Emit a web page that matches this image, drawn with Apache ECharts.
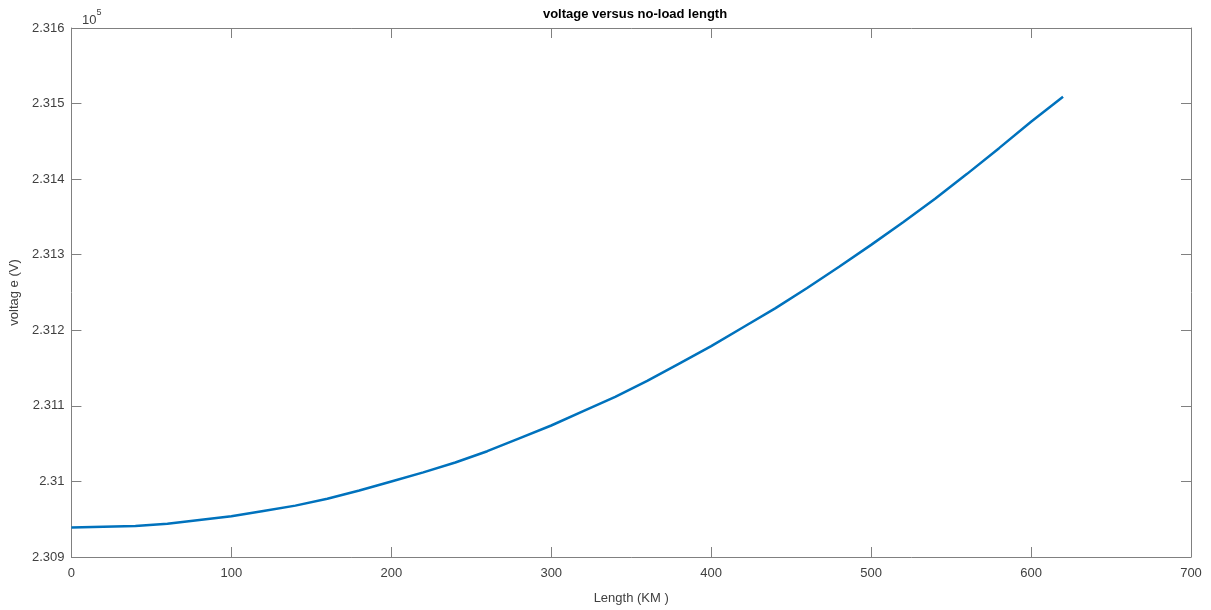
<!DOCTYPE html>
<html lang="en">
<head>
    <meta charset="UTF-8">
    <title>voltage versus no-load length</title>
</head>
<body style="margin:0;">
<div id="chart1" style="width:1211px; height:610px;"></div>
<script type="text/javascript" src="https://cdn.jsdelivr.net/npm/echarts@6/dist/echarts.min.js"></script>
<script type="text/javascript">
// line length (km) and receiving-end voltage (V)
var lengthKm = [0, 20, 40, 60, 80, 100, 120, 140, 160, 180, 200, 220, 240, 260, 280, 300,
                320, 340, 360, 380, 400, 420, 440, 460, 480, 500, 520, 540, 560, 580, 600, 620];
var voltage = [230939, 230940, 230941, 230944, 230949, 230954, 230961, 230968, 230977, 230988,
               231000, 231012, 231025, 231040, 231057, 231074, 231093, 231112, 231133, 231156,
               231179, 231204, 231229, 231256, 231284, 231313, 231343, 231374, 231407, 231441,
               231476, 231509];
var yTicks = [2.309, 2.31, 2.311, 2.312, 2.313, 2.314, 2.315, 2.316];   // x 10^5
var xTicks = [0, 100, 200, 300, 400, 500, 600, 700];

var axisGray = '#808080';
var textGray = '#404040';
var fnt = 'Liberation Sans';

var pts = [];
for (var i = 0; i < lengthKm.length; i++) {
    pts.push([lengthKm[i], voltage[i]]);
}

// new object each time, echarts merges into it
function tickOpts() {
    return {show: true, inside: true, length: 10, lineStyle: {color: axisGray, width: 1}};
}

var option = {
    animation: false,
    backgroundColor: '#fff',
    title: {
        text: 'voltage versus no-load length',
        left: 630, top: 3, textAlign: 'center',
        textStyle: {fontFamily: fnt, fontSize: 13, fontWeight: 'bold', color: '#000'}
    },
    grid: {left: 71, right: 20, top: 28, bottom: 51},
    xAxis: [{
        type: 'value',
        min: xTicks[0], max: xTicks[xTicks.length - 1], interval: 100,
        name: 'Length (KM )', nameLocation: 'middle', nameGap: 35,
        nameTextStyle: {fontFamily: fnt, fontSize: 13, color: textGray},
        axisLine: {show: true, lineStyle: {color: axisGray, width: 1}},
        axisTick: tickOpts(),
        axisLabel: {fontFamily: fnt, fontSize: 13, color: textGray, margin: 10},
        splitLine: {show: false}
    }, {
        type: 'value', position: 'top',
        min: xTicks[0], max: xTicks[xTicks.length - 1], interval: 100,
        axisLine: {show: true, lineStyle: {color: axisGray, width: 1}},
        axisTick: tickOpts(),
        axisLabel: {show: false},
        splitLine: {show: false}
    }],
    yAxis: [{
        type: 'value',
        min: yTicks[0] * 1e5, max: yTicks[yTicks.length - 1] * 1e5, interval: 100,
        name: 'voltag e (V)', nameLocation: 'middle', nameGap: 40,
        nameTextStyle: {fontFamily: fnt, fontSize: 13, color: textGray},
        axisLine: {show: true, lineStyle: {color: axisGray, width: 1}},
        axisTick: tickOpts(),
        axisLabel: {
            fontFamily: fnt, fontSize: 13, color: textGray, margin: 7,
            formatter: function (v) { return String(parseFloat((v / 1e5).toFixed(3))); }
        },
        splitLine: {show: false}
    }, {
        type: 'value', position: 'right',
        min: yTicks[0] * 1e5, max: yTicks[yTicks.length - 1] * 1e5, interval: 100,
        axisLine: {show: true, onZero: false, lineStyle: {color: axisGray, width: 1}},
        axisTick: tickOpts(),
        axisLabel: {show: false},
        splitLine: {show: false}
    }],
    graphic: [{
        type: 'text', left: 82, top: 8,
        style: {
            text: '{b|10}{s|5}',
            rich: {
                b: {fontFamily: fnt, fontSize: 13, fill: textGray, padding: [6, 0, 0, 0]},
                s: {fontFamily: fnt, fontSize: 9, fill: textGray, verticalAlign: 'top'}
            }
        }
    }],
    series: [{
        name: 'voltage',
        type: 'line',
        data: pts,
        showSymbol: false,
        lineStyle: {color: '#0072BD', width: 2.5},
        itemStyle: {color: '#0072BD'}
    }, {
        // empty series so the right y axis gets drawn with its ticks
        type: 'line', yAxisIndex: 1, xAxisIndex: 1, data: [], showSymbol: false
    }]
};

var myChart = echarts.init(document.getElementById('chart1'));
myChart.setOption(option);
</script>
</body>
</html>
